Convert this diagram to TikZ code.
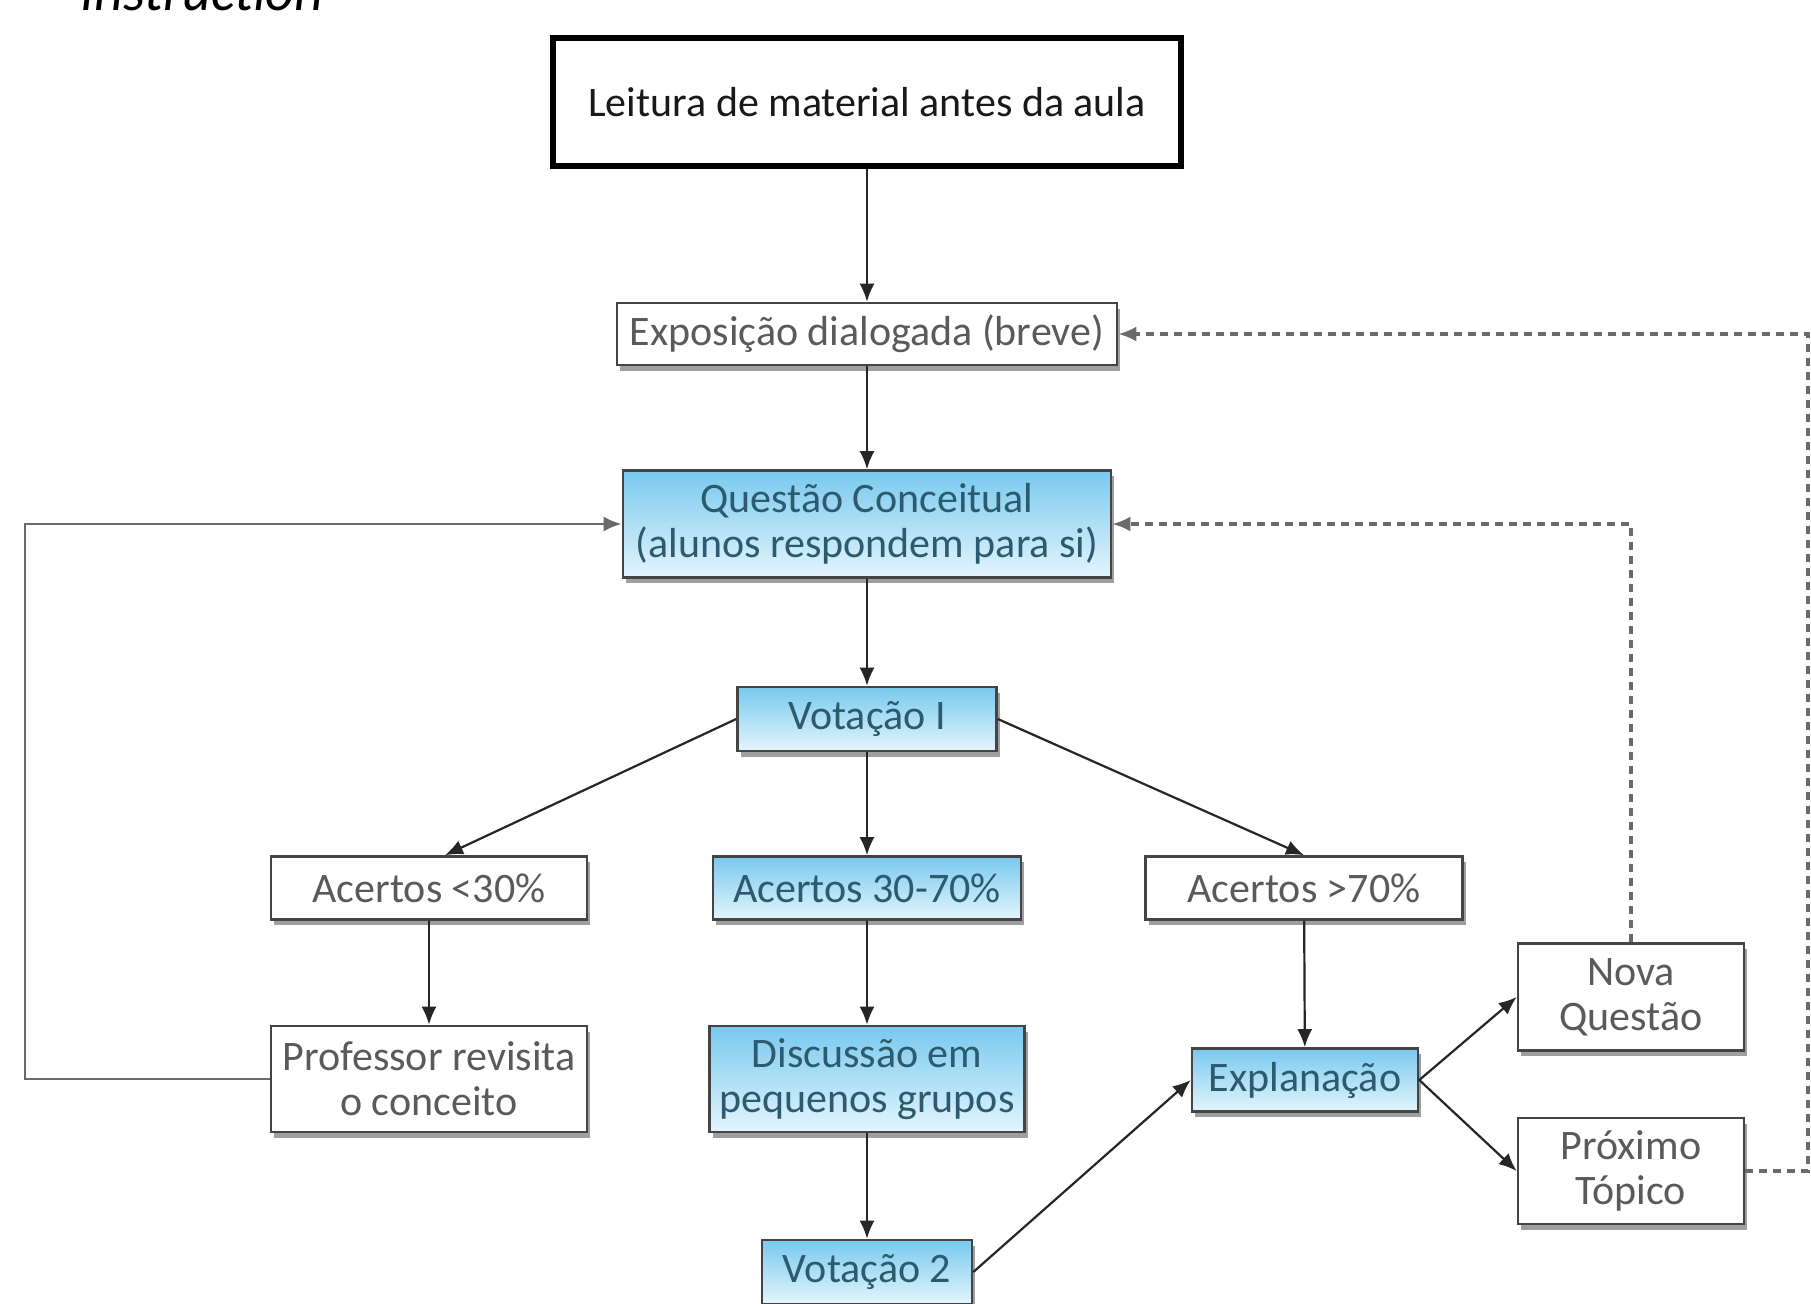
\documentclass[tikz,border=0pt]{standalone}
\usepackage{fontspec}
\setmainfont{Carlito}
\usetikzlibrary{shadows,arrows.meta,calc}
\definecolor{boxtxt}{HTML}{5A5A5A}
\definecolor{bluetxt}{HTML}{2C5A6E}
\definecolor{btop}{HTML}{78C9EE}
\definecolor{bbot}{HTML}{E4F5FC}
\definecolor{edgec}{HTML}{444444}
\definecolor{loopc}{HTML}{6A6A6A}
\begin{document}
\begin{tikzpicture}[x=0.5pt,y=-0.5pt,
  base/.style={draw=edgec, line width=1.3pt, inner sep=0pt, align=center,
    font=\fontsize{21}{22.5}\selectfont,
    drop shadow={shadow xshift=1.5pt, shadow yshift=-2.8pt, fill=black!75}},
  wbox/.style={base, fill=white, text=boxtxt},
  bbox/.style={base, top color=btop, bottom color=bbot, text=bluetxt},
  arr/.style={draw=black!85, line width=1.1pt, -{Latex[length=9pt,width=7.5pt]}},
  fb/.style={draw=loopc, line width=1.4pt, -{Latex[length=9pt,width=7.5pt]}},
  dfb/.style={draw=loopc, line width=1.6pt, dash pattern=on 4pt off 3pt, -{Latex[length=9pt,width=7.5pt]}}
]
\useasboundingbox (0,0) rectangle (1811,1303);
\fill[white] (0,0) rectangle (1811,1303);

\node[anchor=base west, inner sep=0pt, font=\fontsize{28}{28}\selectfont\itshape] (instr) at (80,10) {Instruction};

\node[draw=black, line width=3pt, fill=white, inner sep=0pt, minimum width=314pt, minimum height=64pt,
  text=black!90, font=\fontsize{21}{22.5}\selectfont] (lei) at (867,102) {Leitura de material antes da aula};

\node[wbox, minimum width=250pt, minimum height=31pt] (expo) at (867,334) {Exposição dialogada (breve)};
\node[bbox, minimum width=244pt, minimum height=53.5pt] (quest) at (867,524) {Questão Conceitual\\(alunos respondem para si)};
\node[bbox, minimum width=129.5pt, minimum height=32pt] (v1) at (867,719) {Votação I};

\node[wbox, minimum width=158pt, minimum height=31.5pt] (lt30) at (429,888) {Acertos <30\%};
\node[bbox, minimum width=154pt, minimum height=31.5pt] (mid) at (867,888) {Acertos 30-70\%};
\node[wbox, minimum width=158.5pt, minimum height=31.5pt] (gt70) at (1304,888) {Acertos >70\%};

\node[wbox, minimum width=158pt, minimum height=53pt] (prof) at (429,1079) {Professor revisita\\o conceito};
\node[bbox, minimum width=157.5pt, minimum height=53pt] (disc) at (867,1079) {Discussão em\\pequenos grupos};
\node[bbox, minimum width=105pt, minimum height=32pt] (v2) at (867,1272) {Votação 2};

\node[bbox, minimum width=113pt, minimum height=31.5pt] (expl) at (1305,1080) {Explanação};
\node[wbox, minimum width=113pt, minimum height=53.5pt] (nova) at (1631,997) {Nova\\Questão};
\node[wbox, minimum width=113pt, minimum height=53pt] (prox) at (1631,1171) {Próximo\\Tópico};

\draw[arr] (lei) -- (expo);
\draw[arr] (expo) -- (quest);
\draw[arr] (quest) -- (v1);
\draw[arr] (v1.west) -- ([xshift=8pt]lt30.north);
\draw[arr] (v1) -- (mid);
\draw[arr] (v1.east) -- (gt70.north);
\draw[arr] (lt30) -- (prof);
\draw[arr] (mid) -- (disc);
\draw[arr] (disc) -- (v2);
\draw[arr] (gt70) -- (expl);
\draw[arr] (v2.east) -- (expl.west);
\draw[arr] (expl.east) -- (nova.west);
\draw[arr] (expl.east) -- (prox.west);

\coordinate (lc) at (25,1079);
\draw[fb] (prof.west) -- (lc) |- (quest.west);
\draw[dfb] (nova.north) |- (quest.east);
\coordinate (rc) at (1808,1171);
\draw[dfb] (prox.east) -- (rc) |- (expo.east);
\end{tikzpicture}
\end{document}
